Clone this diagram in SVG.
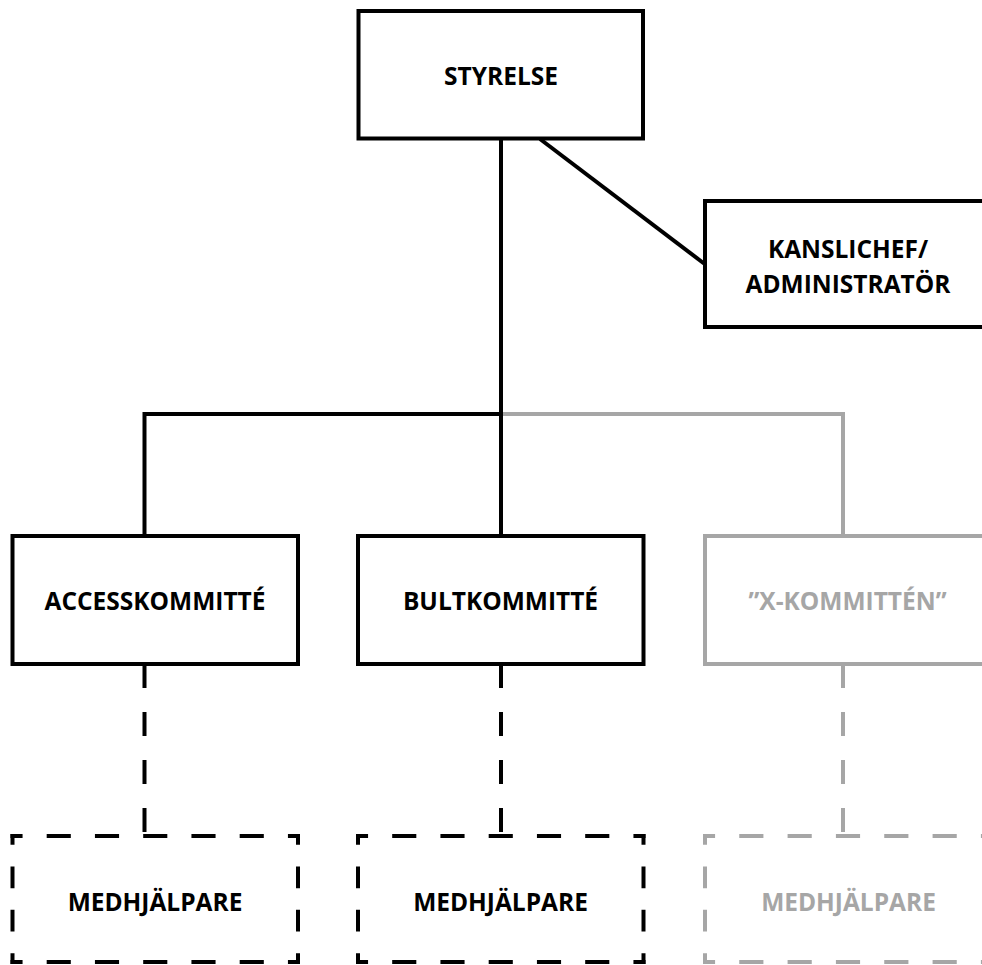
<svg xmlns="http://www.w3.org/2000/svg" width="982" height="965" viewBox="0 0 982 965">
  <style>
    .box { fill: #ffffff; stroke: #000000; stroke-width: 4; }
    .gbox { fill: #ffffff; stroke: #a6a6a6; stroke-width: 4; }
    .ln { fill: none; stroke: #000000; stroke-width: 4; }
    .gln { fill: none; stroke: #a6a6a6; stroke-width: 4; }
    .dconn { stroke-dasharray: 24 24; }
    .dside { fill: none; stroke-width: 4; stroke-dasharray: 1 1; stroke-dashoffset: 0.5; }
    .blk { stroke: #000000; }
    .gry { stroke: #a6a6a6; }
    .t { font-family: "Open Sans", "Liberation Sans", sans-serif; font-weight: bold; font-size: 24.5px; text-anchor: middle; fill: #000000; }
    .tg { fill: #a6a6a6; }
  </style>

  <g id="connectors">
    <line class="ln" x1="540" y1="139" x2="706" y2="265"/>
    <line class="ln" x1="501" y1="138" x2="501" y2="536"/>
    <polyline class="ln" points="501,414 144.5,414 144.5,536"/>
    <polyline class="gln" points="503,414 843,414 843,536"/>
    <line class="ln dconn" x1="144.5" y1="664" x2="144.5" y2="836"/>
    <line class="ln dconn" x1="501" y1="664" x2="501" y2="836"/>
    <line class="gln dconn" x1="843" y1="664" x2="843" y2="836"/>
  </g>

  <g id="styrelse">
    <rect class="box" x="358.5" y="11" width="284.5" height="127.5"/>
    <text class="t" x="501" y="85">STYRELSE</text>
  </g>

  <g id="kanslichef">
    <rect class="box" x="705" y="201" width="286" height="126"/>
    <text class="t" x="848" y="258">KANSLICHEF/</text>
    <text class="t" x="848" y="293">ADMINISTRATÖR</text>
  </g>

  <g id="accesskommitte">
    <rect class="box" x="12.5" y="536" width="285.5" height="128"/>
    <text class="t" x="155" y="610">ACCESSKOMMITTÉ</text>
  </g>

  <g id="bultkommitte">
    <rect class="box" x="358" y="536" width="285.5" height="128"/>
    <text class="t" x="500.5" y="610">BULTKOMMITTÉ</text>
  </g>

  <g id="x-kommitten">
    <rect class="gbox" x="705" y="536" width="286" height="128"/>
    <text class="t tg" x="847.5" y="610">”X-KOMMITTÉN”</text>
  </g>

  <g id="medhjalpare-access">
    <path class="dside blk" pathLength="12" d="M10.5,836 H300"/>
    <path class="dside blk" pathLength="12" d="M10.5,962 H300"/>
    <path class="dside blk" pathLength="6" d="M12.5,834 V964"/>
    <path class="dside blk" pathLength="6" d="M298,834 V964"/>
    <text class="t" x="155" y="911">MEDHJÄLPARE</text>
  </g>

  <g id="medhjalpare-bult">
    <path class="dside blk" pathLength="12" d="M356,836 H645.5"/>
    <path class="dside blk" pathLength="12" d="M356,962 H645.5"/>
    <path class="dside blk" pathLength="6" d="M358,834 V964"/>
    <path class="dside blk" pathLength="6" d="M643.5,834 V964"/>
    <text class="t" x="500.5" y="911">MEDHJÄLPARE</text>
  </g>

  <g id="medhjalpare-x">
    <path class="dside gry" pathLength="12" d="M703,836 H993"/>
    <path class="dside gry" pathLength="12" d="M703,962 H993"/>
    <path class="dside gry" pathLength="6" d="M705,834 V964"/>
    <path class="dside gry" pathLength="6" d="M991,834 V964"/>
    <text class="t tg" x="848.5" y="911">MEDHJÄLPARE</text>
  </g>
</svg>
